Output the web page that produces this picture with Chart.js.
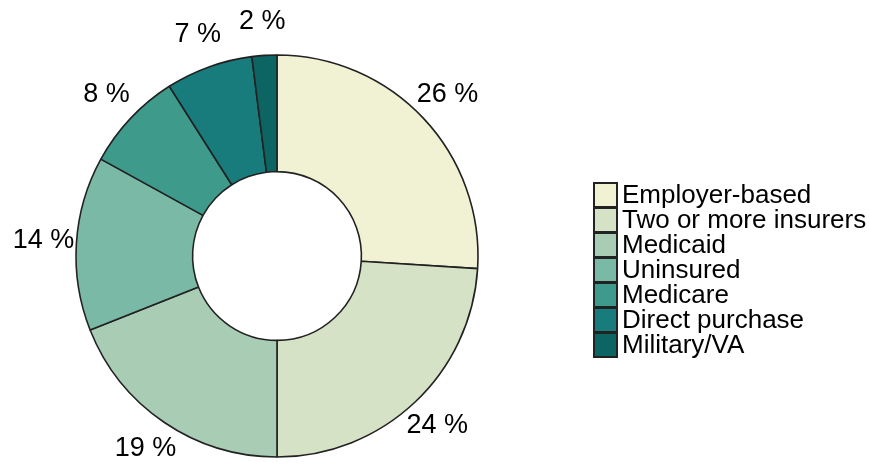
<!DOCTYPE html>
<html>
<head>
<meta charset="utf-8">
<script src="https://cdn.jsdelivr.net/npm/chart.js@4.4.0/dist/chart.umd.min.js"></script>
<style>
  html, body { margin: 0; padding: 0; background: #fff; }
  #wrap { width: 870px; height: 466px; }
</style>
</head>
<body>
<div id="wrap"><canvas id="coverageChart"></canvas></div>
<script>
const categories = ['Employer-based', 'Two or more insurers', 'Medicaid', 'Uninsured', 'Medicare', 'Direct purchase', 'Military/VA'];
const shares = [26, 24, 19, 14, 8, 7, 2];
const sliceColors = ['#f1f1d4', '#d6e2c6', '#a9cdb4', '#79b9a5', '#3e9b8c', '#187b7c', '#0c6463'];

const FONT = '"Liberation Sans", Arial, sans-serif';

// percent labels outside the ring + the boxed legend on the right
const labelsAndLegend = {
  id: 'labelsAndLegend',
  afterDraw(chart) {
    const ctx = chart.ctx;
    const meta = chart.getDatasetMeta(0);
    ctx.save();
    ctx.font = '27px ' + FONT;
    ctx.fillStyle = '#000';
    ctx.textAlign = 'center';
    ctx.textBaseline = 'middle';
    meta.data.forEach((arc, i) => {
      const p = arc.getProps(['x', 'y', 'startAngle', 'endAngle', 'outerRadius'], true);
      const mid = (p.startAngle + p.endAngle) / 2;
      const r = p.outerRadius + 33;
      ctx.fillText(shares[i] + ' %', p.x + Math.cos(mid) * r, p.y + Math.sin(mid) * r - 1);
    });

    const lx = chart.chartArea.right + 40;
    const ly = 183;
    const rowH = 25;
    ctx.font = '26px ' + FONT;
    ctx.textAlign = 'left';
    ctx.lineWidth = 2;
    ctx.strokeStyle = '#222';
    categories.forEach((name, i) => {
      const y = ly + i * rowH;
      ctx.fillStyle = sliceColors[i];
      ctx.fillRect(lx, y, 23, 24);
      ctx.strokeRect(lx, y, 23, 24);
      ctx.fillStyle = '#000';
      ctx.fillText(name, lx + 28, y + 13);
    });
    ctx.restore();
  }
};

new Chart(document.getElementById('coverageChart').getContext('2d'), {
  type: 'doughnut',
  data: {
    labels: categories,
    datasets: [{
      data: shares,
      backgroundColor: sliceColors,
      borderColor: '#222',
      borderWidth: 1.6,
      hoverOffset: 0
    }]
  },
  options: {
    responsive: true,
    maintainAspectRatio: false,
    animation: false,
    radius: 201,
    cutout: '42%',
    layout: {
      padding: { left: 0, right: 316, top: 50, bottom: 4 }
    },
    plugins: {
      legend: { display: false },
      tooltip: { enabled: false }
    }
  },
  plugins: [labelsAndLegend]
});
</script>
</body>
</html>
